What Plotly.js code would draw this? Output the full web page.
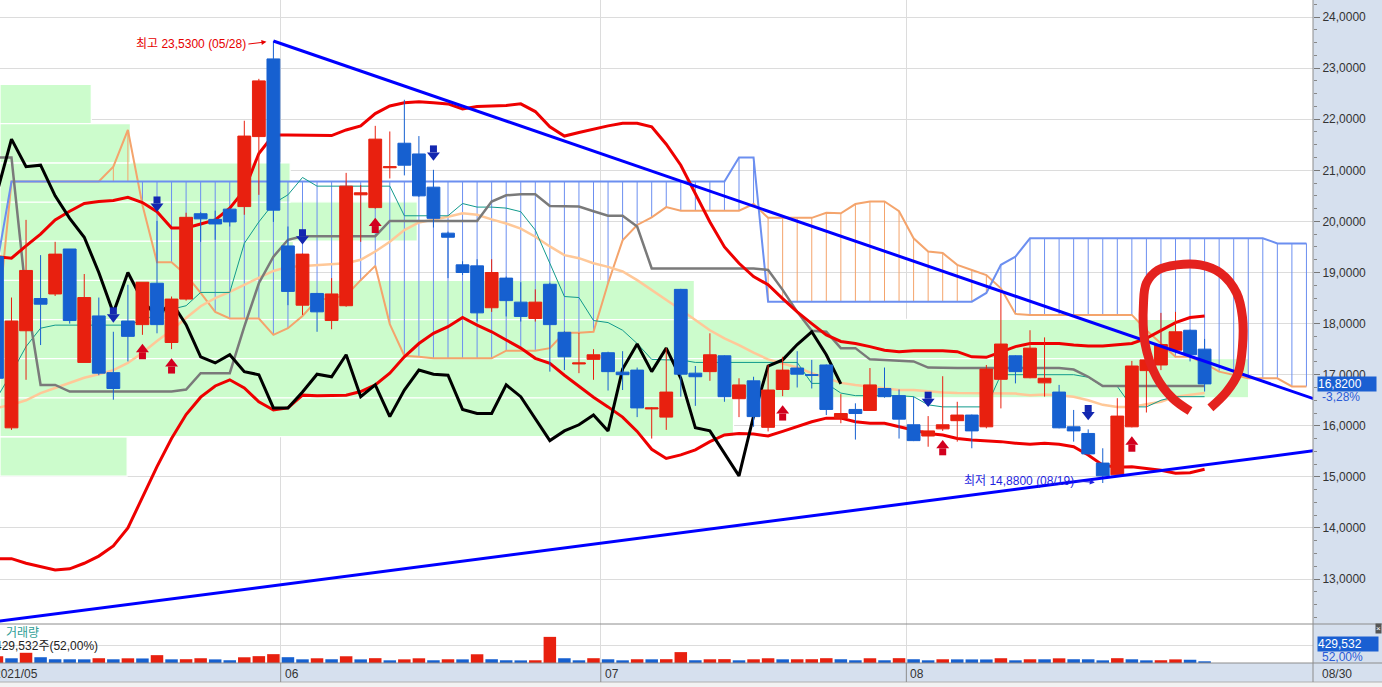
<!DOCTYPE html>
<html><head><meta charset="utf-8">
<script src="https://cdn.plot.ly/plotly-3.0.1.min.js"></script>
<style>html,body{margin:0;padding:0;background:#fff;overflow:hidden}#chart{width:1382px;height:687px}</style>
</head><body><div id="chart"></div>
<script>
// ---------------- data ----------------
const dates = ['2021-05-03','2021-05-04','2021-05-05','2021-05-06','2021-05-07','2021-05-10','2021-05-11','2021-05-12','2021-05-13','2021-05-14','2021-05-17','2021-05-18','2021-05-19','2021-05-20','2021-05-21','2021-05-24','2021-05-25','2021-05-26','2021-05-27','2021-05-28',
'2021-06-01','2021-06-02','2021-06-03','2021-06-04','2021-06-07','2021-06-08','2021-06-09','2021-06-10','2021-06-11','2021-06-14','2021-06-15','2021-06-16','2021-06-17','2021-06-18','2021-06-21','2021-06-22','2021-06-23','2021-06-24','2021-06-25','2021-06-28','2021-06-29','2021-06-30',
'2021-07-01','2021-07-02','2021-07-06','2021-07-07','2021-07-08','2021-07-09','2021-07-12','2021-07-13','2021-07-14','2021-07-15','2021-07-16','2021-07-19','2021-07-20','2021-07-21','2021-07-22','2021-07-23','2021-07-26','2021-07-27','2021-07-28','2021-07-29','2021-07-30',
'2021-08-02','2021-08-03','2021-08-04','2021-08-05','2021-08-06','2021-08-09','2021-08-10','2021-08-11','2021-08-12','2021-08-13','2021-08-16','2021-08-17','2021-08-18','2021-08-19','2021-08-20','2021-08-23','2021-08-24','2021-08-25','2021-08-26','2021-08-27','2021-08-30'];

const open = [19.31,15.96,17.86,18.49,18.58,19.46,17.24,18.15,17.04,18.05,
 17.98,18.79,17.63,18.48,20.15,20.04,20.24,20.29,21.66,23.18,
 19.52,18.36,18.59,18.06,18.35,20.52,20.27,21.05,21.53,21.32,
 20.67,19.77,19.15,19.13,18.31,18.89,18.42,18.10,18.77,17.83,
 17.21,17.30,17.43,17.05,17.09,16.33,16.17,18.67,17.03,17.06,
 17.37,16.53,16.88,15.97,16.71,17.13,17.00,17.19,16.15,16.32,
 16.30,16.73,16.59,16.02,15.80,15.94,16.10,16.21,15.98,16.91,
 17.37,16.94,16.84,16.66,15.98,15.85,15.27,15.04,15.98,17.08,
 17.19,17.48,17.87,17.50];
const high = [19.55,18.51,20.03,19.34,19.60,19.46,18.97,18.51,17.84,18.76,
 18.81,20.01,18.53,20.17,20.18,20.21,20.26,21.97,22.79,23.53,
 19.90,19.37,18.60,18.89,20.95,20.71,21.87,21.76,22.38,21.67,
 21.01,19.80,19.22,19.26,19.26,18.92,18.81,18.67,18.80,17.85,
 17.82,17.50,17.45,17.46,17.14,16.36,17.52,18.68,17.17,17.81,
 17.38,16.93,16.96,17.19,17.35,17.46,17.29,17.20,16.62,16.44,
 17.13,17.14,16.71,16.57,16.19,16.97,16.47,16.22,17.19,18.62,
 17.38,17.87,17.73,16.80,16.31,15.93,15.56,16.54,17.27,17.55,
 18.21,18.23,17.88,17.70];
const low = [16.85,15.92,16.90,17.58,18.54,18.00,17.24,16.99,16.51,17.26,
 17.78,17.81,17.50,18.45,19.60,19.64,19.90,20.13,20.52,19.99,
 18.36,18.17,17.84,17.89,18.33,19.60,20.25,20.84,20.90,20.48,
 19.88,18.89,18.95,18.04,18.23,18.14,18.04,18.04,17.06,17.09,
 17.03,16.90,16.69,16.70,16.17,15.75,15.92,16.57,16.39,16.88,
 16.47,16.17,15.98,15.89,16.58,16.75,16.73,16.21,16.05,15.73,
 16.29,16.55,15.75,15.70,15.59,15.90,15.69,15.56,15.95,16.34,
 16.83,16.93,16.57,15.95,15.69,15.44,14.88,15.03,15.97,16.26,
 17.09,17.47,17.26,16.67];
const close = [16.93,18.05,19.04,18.38,19.36,18.06,18.51,17.03,16.73,17.75,
 18.81,17.98,18.48,20.08,20.05,19.95,19.99,21.67,22.75,20.22,
 18.63,19.36,18.23,18.58,20.69,20.56,21.61,21.07,21.10,20.50,
 20.06,19.69,19.00,18.21,19.00,18.45,18.14,18.42,17.98,17.35,
 17.23,17.39,17.06,17.00,16.35,16.35,16.66,17.01,16.96,17.39,
 16.57,16.80,16.18,16.70,17.09,17.01,16.99,16.32,16.24,16.24,
 16.80,16.57,16.13,15.71,15.90,16.02,16.21,15.90,17.11,17.60,
 17.06,17.52,16.93,15.96,15.90,15.45,15.02,16.19,17.17,17.29,
 17.59,17.84,17.39,16.82];
const volume = [1712000,1195000,2583000,1462000,951000,940000,925000,1210000,938000,1186000,
 1150000,1985000,930000,961000,1204000,915000,702000,1448000,1731000,2236000,
 1470000,932000,1193000,947000,1702000,918000,1221000,681000,925000,1190000,
 690000,944000,921000,2210000,955000,693000,662000,688000,6612000,1205000,
 684000,1213000,940000,679000,952000,931000,968000,2755000,695000,942000,
 976000,684000,939000,1198000,934000,947000,962000,1216000,948000,688000,
 1199000,691000,1222000,951000,683000,946000,921000,908000,897000,1207000,
 679000,944000,936000,1182000,952000,940000,675000,1214000,938000,674000,
 702000,918000,826023,429532];

// Ichimoku leading spans (already shifted forward, index 0..90)
const spanA = [17.87,20.78,20.78,20.78,20.78,20.78,20.78,20.78,21.07,21.79,
 20.32,19.20,19.20,18.95,18.60,18.23,18.10,18.10,18.10,17.78,
 17.91,18.15,18.46,18.50,18.55,18.85,19.13,17.99,17.37,17.35,
 17.32,17.32,17.32,17.32,17.32,17.47,17.47,17.47,17.52,17.82,
 17.82,17.84,18.79,19.63,19.93,20.08,20.28,20.21,20.21,20.21,
 20.21,20.21,20.34,20.07,20.07,20.07,20.07,20.17,20.16,20.34,
 20.39,20.39,20.20,19.67,19.41,19.38,19.15,19.05,18.95,18.69,
 18.19,18.17,18.17,18.17,18.17,18.17,18.17,18.17,18.17,17.87,
 17.61,17.35,17.35,17.22,17.06,16.99,16.93,16.93,16.93,16.77,16.77];
const spanB = [19.15,20.78,20.78,20.78,20.78,20.78,20.78,20.78,20.78,20.78,
 20.78,20.78,20.78,20.78,20.78,20.78,20.78,20.78,20.78,20.78,
 20.78,20.78,20.78,20.78,20.78,20.78,20.78,20.78,20.78,20.78,
 20.78,20.78,20.78,20.78,20.78,20.78,20.78,20.78,20.78,20.78,
 20.78,20.78,20.78,20.78,20.78,20.78,20.78,20.78,20.78,20.78,
 20.78,21.25,21.25,18.43,18.43,18.43,18.43,18.43,18.43,18.43,
 18.43,18.43,18.43,18.43,18.43,18.43,18.43,18.43,18.60,19.15,
 19.31,19.67,19.67,19.67,19.67,19.67,19.67,19.67,19.67,19.67,
 19.67,19.67,19.67,19.67,19.67,19.67,19.67,19.67,19.57,19.57,19.57];
const tenkan = [16.55,17.03,17.55,17.91,17.97,17.97,17.97,17.97,17.97,17.97,
 18.07,18.17,18.28,18.35,18.61,18.61,18.61,19.57,19.99,20.35,
 20.52,20.86,20.69,20.69,20.69,20.69,20.69,20.69,20.11,20.11,
 20.11,20.11,20.35,20.28,20.28,20.26,20.19,19.83,19.18,18.53,
 18.51,18.06,18.02,17.87,17.61,17.30,17.29,17.29,17.24,17.24,
 17.24,17.24,17.24,17.24,17.24,17.24,16.83,16.83,16.64,16.59,
 16.59,16.59,16.59,16.57,16.41,16.37,16.37,16.37,16.37,17.00,
 17.00,17.00,17.00,17.00,17.00,16.95,16.77,16.77,16.37,16.37,
 16.50,16.57,16.57,16.57];
const kijun = [21.25,21.25,18.56,16.80,16.80,16.67,16.67,16.67,16.67,16.67,
 16.67,16.67,16.67,16.71,17.03,17.03,17.03,17.94,18.79,19.31,
 19.64,19.71,19.71,19.71,19.71,19.71,19.71,20.01,20.01,20.01,
 20.01,20.01,20.01,20.01,20.39,20.51,20.53,20.53,20.30,20.29,
 20.29,20.20,20.11,20.11,19.90,19.08,19.08,19.08,19.08,19.08,
 19.08,19.08,19.08,19.05,18.66,18.23,17.86,17.84,17.52,17.52,
 17.30,17.29,17.28,17.26,17.14,17.13,17.13,17.13,17.13,17.13,
 17.13,17.13,17.13,17.13,17.10,16.96,16.78,16.78,16.78,16.78,
 16.78,16.78,16.78,16.78];
const bbUpper = [19.31,19.28,19.52,19.75,20.03,20.20,20.35,20.39,20.41,20.47,
 20.37,20.19,19.87,19.87,19.95,20.03,20.26,20.61,21.33,21.69,
 21.69,21.69,21.68,21.68,21.79,21.87,22.11,22.26,22.32,22.34,
 22.32,22.30,22.20,22.25,22.26,22.27,22.30,22.15,21.85,21.67,
 21.74,21.81,21.87,21.92,21.92,21.85,21.51,21.10,20.55,19.99,
 19.50,19.18,18.92,18.76,18.49,18.23,18.00,17.78,17.65,17.61,
 17.55,17.48,17.45,17.47,17.47,17.47,17.45,17.35,17.34,17.45,
 17.55,17.61,17.61,17.61,17.58,17.56,17.56,17.58,17.61,17.71,
 17.87,18.02,18.12,18.15];
const bbMid = [16.35,16.41,16.50,16.64,16.74,16.84,16.94,17.01,17.09,17.23,
 17.43,17.66,17.87,18.11,18.34,18.50,18.62,18.76,18.89,19.03,
 19.11,19.13,19.15,19.16,19.18,19.25,19.41,19.60,19.83,19.98,
 20.03,20.09,20.16,20.13,20.04,19.96,19.86,19.70,19.51,19.34,
 19.28,19.18,19.11,19.02,18.85,18.66,18.46,18.27,18.07,17.87,
 17.71,17.58,17.43,17.30,17.22,17.14,17.03,16.93,16.84,16.80,
 16.77,16.73,16.70,16.70,16.67,16.65,16.64,16.64,16.64,16.64,
 16.63,16.60,16.61,16.60,16.57,16.50,16.41,16.37,16.37,16.42,
 16.47,16.57,16.60,16.64];
const bbLower = [13.40,13.40,13.31,13.24,13.18,13.20,13.31,13.45,13.65,14.00,
 14.60,15.20,15.75,16.22,16.56,16.78,16.90,16.74,16.47,16.31,
 16.35,16.60,16.59,16.59,16.60,16.67,16.80,17.03,17.35,17.61,
 17.81,17.94,18.12,17.97,17.84,17.68,17.52,17.32,17.22,16.99,
 16.77,16.56,16.37,16.17,15.89,15.54,15.36,15.43,15.53,15.69,
 15.82,15.85,15.84,15.80,15.89,15.98,16.08,16.15,16.15,16.08,
 16.05,16.05,15.98,15.92,15.85,15.82,15.75,15.72,15.71,15.69,
 15.66,15.64,15.66,15.64,15.59,15.43,15.23,15.19,15.20,15.17,
 15.13,15.07,15.08,15.15];

// volume-at-price profile (price bucket centres, millions of shares)
const profilePrice = [15.40,16.17,16.93,17.70,18.46,19.23,20.00,20.76,21.53,22.30];
const profileStep = 0.767;
const profileVol = [3.9,22.5,38.3,36.1,21.3,9.0,12.8,8.9,4.0,2.8];

// signal arrows
const sellSignals = [8,11,21,30,64,75];
const buySignals = [10,12,26,54,65,78];

// user drawn trend lines (index, price)
const resistX = [19,91], resistY = [23.53,16.48];
const supportX = [0,91], supportY = [12.17,15.53];
// hand-drawn marker loop (index, price)
const markX = [82.0,80.8,79.7,78.9,78.8,79.0,79.8,81.1,82.7,84.1,85.2,85.6,85.6,85.3,84.5,83.4];
const markY = [16.29,16.54,16.95,17.62,18.40,18.79,19.05,19.15,19.15,18.99,18.60,18.13,17.54,17.03,16.66,16.35];

// ---------------- helpers ----------------
const RED = '#e8200f', BLUE = '#1660d0';
const idx = dates.map((d,i)=>i);
const spanIdx = spanA.map((v,i)=>i);
const chikou = close.slice(25);
const chikouIdx = chikou.map((v,i)=>i);
const XR = [0.21, 90.45];
const YR = [12.121, 24.333];
const PW = 1313, PH = 663, PRICE_H = 624;
const PX = (YR[1]-YR[0]) / PRICE_H;
const fmt4 = v => v.toFixed(4).replace('.', ',');
const mmdd = d => d.slice(5).replace('-', '/');
const paperX = p => p / PW;
const paperY = p => (PH - p) / PH;
const xToPaper = v => (v - XR[0]) / (XR[1] - XR[0]);

// hatch between spans
const hbX=[],hbY=[],hoX=[],hoY=[];
spanA.forEach((a,i)=>{ const b=spanB[i]; if(Math.abs(a-b)<0.005) return;
  if(b>a){hbX.push(i,i,null);hbY.push(a,b,null);} else {hoX.push(i,i,null);hoY.push(a,b,null);} });

// volume colour by change vs previous day
const volColor = volume.map((v,i)=> (i===0 || v>volume[i-1]) ? RED : BLUE);

// arrows
const R = 5.6;
const sellHeadY = sellSignals.map(i => high[i] + (9 + R) * PX);
const sellStemY = sellSignals.map(i => high[i] + (9 + 1.5*R + 3.5) * PX);
const buyHeadY = buySignals.map(i => low[i] - (9 + R) * PX);
const buyStemY = buySignals.map(i => low[i] - (9 + 1.5*R + 3.5) * PX);

// month boundaries
const monthStarts = [];
dates.forEach((d,i)=>{ if(i===0 || d.slice(5,7)!==dates[i-1].slice(5,7)) monthStarts.push(i); });
const monthBounds = monthStarts.map(i=>i-0.5);
const monthText = monthStarts.map((i,k)=> k===0 ? dates[i].slice(0,4)+'/'+dates[i].slice(5,7) : dates[i].slice(5,7));

let hiIdx=0, loIdx=0;
high.forEach((v,i)=>{ if(v>high[hiIdx]) hiIdx=i; });
low.forEach((v,i)=>{ if(v<low[loIdx]) loIdx=i; });
const last = close.length-1;
const chg = (close[last]/close[last-1]-1)*100;
const volPct = volume[last]/volume[last-1]*100;

// ---------------- traces ----------------
const traces = [
 {type:'bar', orientation:'h', x:profileVol, y:profilePrice, width:profileStep, xaxis:'x', yaxis:'y',
  marker:{color:'#ccfccc', line:{color:'#ffffff', width:1.2}}, hoverinfo:'skip'},
 {type:'scatter', mode:'lines', x:hbX, y:hbY, xaxis:'x2', yaxis:'y', line:{color:'#6c8ff0', width:1}, hoverinfo:'skip'},
 {type:'scatter', mode:'lines', x:hoX, y:hoY, xaxis:'x2', yaxis:'y', line:{color:'#f4a46c', width:1}, hoverinfo:'skip'},
 {type:'scatter', mode:'lines', x:spanIdx, y:spanA, xaxis:'x2', yaxis:'y', line:{color:'#f4a46c', width:2}, hoverinfo:'skip'},
 {type:'scatter', mode:'lines', x:spanIdx, y:spanB, xaxis:'x2', yaxis:'y', line:{color:'#6c8ff0', width:2}, hoverinfo:'skip'},
 {type:'scatter', mode:'lines', x:idx, y:bbMid, xaxis:'x2', yaxis:'y', line:{color:'#ffc898', width:2.5}, hoverinfo:'skip'},
 {type:'scatter', mode:'lines', x:idx, y:tenkan, xaxis:'x2', yaxis:'y', line:{color:'#119a8c', width:1}, hoverinfo:'skip'},
 {type:'scatter', mode:'lines', x:idx, y:kijun, xaxis:'x2', yaxis:'y', line:{color:'#7a7a7a', width:2.5}, hoverinfo:'skip'},
 {type:'scatter', mode:'lines', x:idx, y:bbUpper, xaxis:'x2', yaxis:'y', line:{color:'#ee0000', width:3}, hoverinfo:'skip'},
 {type:'scatter', mode:'lines', x:idx, y:bbLower, xaxis:'x2', yaxis:'y', line:{color:'#ee0000', width:3}, hoverinfo:'skip'},
 {type:'scatter', mode:'lines', x:chikouIdx, y:chikou, xaxis:'x2', yaxis:'y', line:{color:'#000000', width:3}, hoverinfo:'skip'},
 {type:'candlestick', x:idx, open:open, high:high, low:low, close:close, xaxis:'x3', yaxis:'y',
  increasing:{line:{color:RED,width:1}, fillcolor:RED}, decreasing:{line:{color:BLUE,width:1}, fillcolor:BLUE},
  whiskerwidth:0, hoverinfo:'skip'},
 {type:'scatter', mode:'lines', x:resistX, y:resistY, xaxis:'x3', yaxis:'y', line:{color:'#0000ff', width:3}, hoverinfo:'skip'},
 {type:'scatter', mode:'lines', x:supportX, y:supportY, xaxis:'x3', yaxis:'y', line:{color:'#0000ff', width:3}, hoverinfo:'skip'},
 {type:'scatter', mode:'markers', x:sellSignals, y:sellStemY, xaxis:'x3', yaxis:'y', marker:{symbol:'square', size:7, color:'#1327b0', line:{width:0}}, hoverinfo:'skip'},
 {type:'scatter', mode:'markers', x:sellSignals, y:sellHeadY, xaxis:'x3', yaxis:'y', marker:{symbol:'triangle-down', size:2*R, color:'#1327b0', line:{width:0}}, hoverinfo:'skip'},
 {type:'scatter', mode:'markers', x:buySignals, y:buyStemY, xaxis:'x3', yaxis:'y', marker:{symbol:'square', size:7, color:'#d2001e', line:{width:0}}, hoverinfo:'skip'},
 {type:'scatter', mode:'markers', x:buySignals, y:buyHeadY, xaxis:'x3', yaxis:'y', marker:{symbol:'triangle-up', size:2*R, color:'#d2001e', line:{width:0}}, hoverinfo:'skip'},
 {type:'scatter', mode:'lines', x:markX, y:markY, xaxis:'x3', yaxis:'y', line:{color:'#e4221e', width:9, shape:'spline', smoothing:1}, hoverinfo:'skip'},
 {type:'bar', x:idx, y:volume, width:0.86, xaxis:'x4', yaxis:'y2', marker:{color:volColor, line:{width:0}}, hoverinfo:'skip'}
];

// ---------------- annotations ----------------
const ann = [];
ann.push({xref:'x3', yref:'y', x:hiIdx, y:high[hiIdx], text:'최고 '+fmt4(high[hiIdx])+' ('+mmdd(dates[hiIdx])+')',
  showarrow:true, arrowhead:2, arrowsize:1, arrowwidth:1, arrowcolor:'#e60000', ax:-25, ay:3, standoff:7,
  xanchor:'right', font:{color:'#e60000', size:12}});
ann.push({xref:'x3', yref:'y', x:loIdx, y:low[loIdx], text:'최저 '+fmt4(low[loIdx])+' ('+mmdd(dates[loIdx])+')',
  showarrow:true, arrowhead:2, arrowsize:1, arrowwidth:1, arrowcolor:'#1f1fe0', ax:-27, ay:-2, standoff:8,
  xanchor:'right', font:{color:'#1f1fe0', size:12}});
monthBounds.forEach((b,k)=>{
  ann.push({xref:'paper', yref:'paper', x:xToPaper(b), y:paperY(674), xanchor:'left', yanchor:'middle', xshift:2,
    showarrow:false, text:monthText[k], font:{size:12, color:'#333'}});
});
ann.push({xref:'paper', yref:'paper', x:paperX(1320), y:paperY(674), xanchor:'left', yanchor:'middle', showarrow:false,
  text:mmdd(dates[last]), font:{size:12, color:'#333'}});
ann.push({xref:'paper', yref:'y', x:paperX(1317), y:close[last], xanchor:'left', yanchor:'middle', showarrow:false,
  text:fmt4(close[last]), bgcolor:'#1a5fd2', font:{size:12, color:'#ffffff'}, width:58, align:'left', borderpad:0});
ann.push({xref:'paper', yref:'y', x:paperX(1320), y:close[last], yshift:-13, xanchor:'left', yanchor:'middle', showarrow:false,
  text:chg.toFixed(2).replace('.', ',')+'%', font:{size:12, color:'#2a5bd7'}});
ann.push({xref:'paper', yref:'paper', x:0, xshift:4, y:paperY(633), xanchor:'left', yanchor:'middle', showarrow:false,
  text:'거래량', font:{size:12, color:'#2f9e96'}});
ann.push({xref:'paper', yref:'paper', x:0, xshift:-7, y:paperY(646), xanchor:'left', yanchor:'middle', showarrow:false,
  text:volume[last].toLocaleString('en-US')+'주('+volPct.toFixed(2).replace('.', ',')+'%)', font:{size:12, color:'#222'}});
ann.push({xref:'paper', yref:'paper', x:paperX(1317), y:paperY(643.5), xanchor:'left', yanchor:'middle', showarrow:false,
  text:volume[last].toLocaleString('en-US'), bgcolor:'#1a5fd2', font:{size:12, color:'#ffffff'}, width:60, align:'left', borderpad:0});
ann.push({xref:'paper', yref:'paper', x:paperX(1320), y:paperY(657), xanchor:'left', yanchor:'middle', showarrow:false,
  text:volPct.toFixed(2).replace('.', ',')+'%', font:{size:12, color:'#2a5bd7'}});
ann.push({xref:'paper', yref:'paper', x:paperX(1378), y:paperY(628), xanchor:'center', yanchor:'middle', showarrow:false,
  text:'×', bgcolor:'#555555', font:{size:8, color:'#ffffff'}, borderpad:0});

// ---------------- frame shapes ----------------
const LINE = '#8c8c8c';
const shapes = [
  {type:'rect', xref:'paper', yref:'paper', x0:-0.01, x1:1.06, y0:paperY(690), y1:paperY(682), fillcolor:'#f2f2f2', line:{color:'#b0b0b0', width:1}, layer:'above'},
  {type:'line', xref:'paper', yref:'paper', x0:0, x1:1.06, y0:paperY(PRICE_H), y1:paperY(PRICE_H), line:{color:LINE, width:1}, layer:'above'},
  {type:'line', xref:'paper', yref:'paper', x0:0, x1:1.06, y0:0, y1:0, line:{color:LINE, width:1}, layer:'above'},
  {type:'line', xref:'paper', yref:'paper', x0:1, x1:1, y0:paperY(682), y1:1, line:{color:LINE, width:1}, layer:'above'}
];
monthBounds.forEach(b=>{
  shapes.push({type:'line', xref:'x2', yref:'paper', x0:b, x1:b, y0:paperY(682), y1:0, line:{color:LINE, width:1}, layer:'above'});
});

const layout = {
  width:1382, height:687, margin:{l:0, r:69, t:0, b:24},
  paper_bgcolor:'#d6e0ee', plot_bgcolor:'#ffffff', showlegend:false,
  separators:',.', boxgap:0.12, boxgroupgap:0,
  font:{family:'Liberation Sans, Noto Sans CJK KR, sans-serif', size:12, color:'#333'},
  xaxis:{domain:[0,1], range:[0, 1313/32.6], visible:false, fixedrange:true},
  xaxis2:{overlaying:'x', anchor:'y', range:XR, showgrid:true, gridcolor:'#dcdcdc', gridwidth:1,
          tickmode:'array', tickvals:monthBounds, showticklabels:false, ticks:'', zeroline:false, showline:false},
  xaxis3:{overlaying:'x', anchor:'y', range:XR, visible:false, rangeslider:{visible:false}},
  xaxis4:{domain:[0,1], anchor:'y2', range:XR, showgrid:true, gridcolor:'#dcdcdc', tickmode:'array', tickvals:monthBounds,
          showticklabels:false, ticks:'', zeroline:false, showline:false},
  yaxis:{domain:[(PH-PRICE_H)/PH, 1], range:YR, side:'right', anchor:'x', showgrid:true, gridcolor:'#dcdcdc', gridwidth:1,
         zeroline:false, showline:false, ticks:'outside', ticklen:6, tickcolor:'#777',
         tickmode:'linear', tick0:0, dtick:1, tickformat:'.4f', tickfont:{size:12, color:'#333'},
         minor:{dtick:0.25, ticks:'outside', ticklen:3, tickcolor:'#888', showgrid:false}},
  yaxis2:{domain:[0, (PH-PRICE_H)/PH], anchor:'x4', range:[0, 9870000], side:'right', showgrid:true, gridcolor:'#dcdcdc',
          tickmode:'array', tickvals:[4400000], showticklabels:false, ticks:'', zeroline:false, showline:false},
  annotations:ann, shapes:shapes
};

Plotly.newPlot('chart', traces, layout, {staticPlot:true, displayModeBar:false});
</script>
</body></html>
